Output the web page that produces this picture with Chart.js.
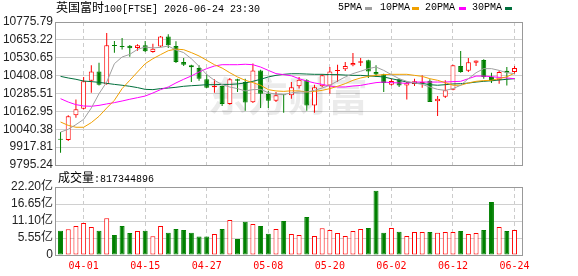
<!DOCTYPE html>
<html>
<head>
<meta charset="utf-8">
<script src="https://cdn.jsdelivr.net/npm/chart.js@4.4.1/dist/chart.umd.min.js"></script>
<style>
  html, body { margin: 0; padding: 0; background: #fff; }
  #wrap { position: relative; width: 578px; height: 276px; overflow: hidden; }
  canvas { position: absolute; left: 0; }
  #priceChart { top: 0; }
  #volChart { top: 176px; }
  .txt { position: absolute; white-space: nowrap; font-family: "Liberation Mono", monospace; font-size: 10px; line-height: 14px; color: #000; z-index: 2; }
  .cjk { font-family: "Noto Sans CJK SC", sans-serif; font-size: 12px; }
  .mk { position: absolute; width: 7px; height: 3px; top: 7px; z-index: 2; }
</style>
</head>
<body>
<div id="wrap">
  <canvas id="priceChart" width="578" height="176"></canvas>
  <canvas id="volChart" width="578" height="100"></canvas>

  <div class="txt" style="left:56px; top:0px;"><span class="cjk">英国富时</span>100[FTSE] 2026-06-24 23:30</div>

  <div class="txt" style="left:338px; top:1px;">5PMA</div>
  <div class="mk" style="left:365px; background:#a0a0a0;"></div>
  <div class="txt" style="left:380px; top:1px;">10PMA</div>
  <div class="mk" style="left:412px; background:#f0a000;"></div>
  <div class="txt" style="left:425px; top:1px;">20PMA</div>
  <div class="mk" style="left:459px; background:#ff00ff;"></div>
  <div class="txt" style="left:472px; top:1px;">30PMA</div>
  <div class="mk" style="left:505px; background:#006f3c;"></div>

  <div class="txt" style="left:58px; top:170px;"><span class="cjk">成交量</span>:817344896</div>
</div>
<script>
// trading days shown (MM-DD)
const dates = ['03-27','03-30','03-31','04-01','04-02','04-07','04-08','04-09','04-10','04-13',
  '04-14','04-15','04-16','04-17','04-20','04-21','04-22','04-23','04-24','04-27',
  '04-28','04-29','04-30','05-01','05-05','05-06','05-07','05-08','05-11','05-12',
  '05-13','05-14','05-15','05-18','05-19','05-20','05-21','05-22','05-26','05-27',
  '05-28','05-29','06-01','06-02','06-03','06-04','06-05','06-08','06-09','06-10',
  '06-11','06-12','06-15','06-16','06-17','06-18','06-19','06-22','06-23','06-24'];

const opens = [9976,9967,10136,10181,10373,10437,10351,10616,10609,10613,
  10597,10616,10570,10607,10677,10611,10501,10479,10460,10383,
  10328,10337,10213,10383,10364,10225,10444,10282,10236,10277,
  10273,10335,10376,10204,10335,10341,10440,10451,10479,10497,
  10513,10433,10417,10346,10383,10341,10351,10355,10373,10232,
  10264,10312,10474,10442,10497,10515,10399,10376,10442,10433];
const highs = [10021,10136,10245,10399,10479,10497,10700,10645,10666,10618,
  10623,10645,10627,10680,10691,10643,10529,10483,10479,10415,
  10383,10341,10392,10387,10387,10492,10449,10305,10296,10282,
  10364,10399,10383,10346,10417,10467,10483,10501,10563,10529,
  10517,10480,10421,10387,10387,10364,10387,10410,10383,10268,
  10376,10483,10577,10529,10511,10520,10428,10444,10467,10474];
const lows = [9880,9960,10120,10177,10291,10341,10346,10565,10588,10538,
  10579,10570,10565,10602,10597,10495,10474,10364,10373,10323,
  10291,10200,10209,10296,10168,10220,10186,10186,10227,10154,
  10250,10319,10168,10154,10328,10284,10364,10440,10472,10474,
  10392,10399,10296,10341,10330,10245,10337,10325,10227,10131,
  10255,10307,10428,10433,10474,10387,10357,10353,10341,10419];
const closes = [9969,10129,10177,10369,10437,10346,10616,10611,10604,10595,
  10616,10575,10593,10677,10616,10501,10483,10465,10387,10325,
  10337,10213,10383,10373,10223,10444,10284,10236,10273,10273,
  10328,10380,10204,10328,10410,10437,10447,10474,10495,10506,
  10437,10415,10357,10371,10341,10360,10369,10364,10227,10250,
  10307,10479,10433,10499,10511,10399,10369,10433,10428,10460];

// volume in 亿
const volumes = [7.93,8.40,9.47,10.45,9.14,7.93,11.98,6.53,9.47,7.18,
  7.84,7.93,6.09,9.47,7.29,8.49,8.16,7.29,6.00,6.00,
  6.86,8.49,11.43,5.22,10.88,10.12,9.47,6.97,8.49,11.10,
  6.86,6.53,12.40,6.20,8.70,8.16,7.18,6.20,7.84,8.49,
  8.82,21.00,7.29,8.82,7.62,6.20,7.51,7.51,7.51,7.29,
  7.51,7.51,7.84,6.86,7.18,8.16,17.30,9.14,7.84,8.17];

const ma5 = [10021,10040,10072,10108,10186,10284,10364,10490,10536,10554,
  10588,10604,10598,10602,10611,10584,10566,10524,10472,10415,
  10376,10346,10330,10319,10303,10312,10314,10291,10280,10278,
  10290,10296,10296,10307,10323,10342,10371,10399,10422,10438,
  10456,10467,10444,10415,10387,10369,10358,10348,10330,10314,
  10307,10319,10342,10387,10428,10456,10456,10444,10428,10422];
const ma10 = [10090,10067,10054,10054,10086,10129,10186,10239,10319,10376,
  10433,10490,10524,10552,10579,10590,10586,10566,10543,10513,
  10483,10460,10428,10399,10376,10360,10342,10312,10303,10300,
  10304,10303,10296,10300,10307,10319,10335,10353,10376,10392,
  10403,10410,10415,10417,10417,10417,10410,10403,10387,10376,
  10360,10342,10342,10358,10369,10374,10376,10388,10400,10425];
const ma20 = [10250,10227,10209,10200,10198,10204,10214,10223,10234,10246,
  10257,10268,10289,10312,10330,10358,10383,10406,10433,10456,
  10474,10483,10483,10483,10486,10483,10467,10444,10422,10415,
  10407,10387,10371,10358,10348,10337,10330,10330,10337,10341,
  10351,10360,10364,10360,10358,10355,10364,10364,10364,10364,
  10364,10367,10369,10387,10405,10405,10401,10396,10392,10387];
const ma30 = [10403,10392,10383,10371,10367,10362,10355,10348,10342,10335,
  10326,10314,10312,10319,10323,10328,10335,10339,10342,10346,
  10346,10348,10348,10351,10358,10369,10383,10399,10410,10417,
  10421,10421,10419,10417,10417,10415,10415,10412,10410,10410,
  10406,10403,10399,10387,10376,10364,10357,10355,10346,10342,
  10346,10351,10353,10357,10364,10369,10373,10378,10383,10387];

const priceTicks = [9795.24, 9917.81, 10040.38, 10162.95, 10285.51, 10408.08, 10530.65, 10653.22, 10775.79];
const volTicks = [0, 5.55, 11.10, 16.65, 22.20];
const volTickLabels = ['0', '5.55亿', '11.10亿', '16.65亿', '22.20亿'];
const dateTicks = [3, 11, 19, 27, 35, 43, 51, 59];

const RED = '#ff0000';
const GREEN = '#008000';
const X_MIN = -0.72, X_MAX = 59.97;

const up = closes.map((c, i) => c >= opens[i]);
const candleColor = up.map(u => u ? RED : GREEN);
const hollowFill = up.map(u => u ? '#ffffff' : GREEN);
const pts = arr => arr.map((v, i) => ({ x: i, y: v }));

function maLine(label, data, color) {
  return { type: 'line', label, data: pts(data), borderColor: color, borderWidth: 1,
    pointRadius: 0, tension: 0, order: 0 };
}

// box round the plot area
const frame = {
  id: 'frame',
  afterDraw(chart) {
    const { ctx, chartArea: a } = chart;
    ctx.save();
    ctx.strokeStyle = '#999';
    ctx.lineWidth = 1;
    ctx.strokeRect(a.left + 0.5, a.top + 0.5, a.right - a.left, a.bottom - a.top);
    ctx.restore();
  }
};

const watermark = {
  id: 'watermark',
  beforeDatasetsDraw(chart) {
    const ctx = chart.ctx;
    ctx.save();
    ctx.font = 'bold 40px "Noto Sans CJK SC"';
    ctx.fillStyle = 'rgba(0,0,0,0.08)';
    ctx.textBaseline = 'middle';
    ctx.fillText('东方财富', 208, 96);
    ctx.restore();
  }
};

function xScale(showLabels) {
  return {
    type: 'linear', min: X_MIN, max: X_MAX, offset: false,
    afterBuildTicks: s => { s.ticks = dateTicks.map(v => ({ value: v })); },
    afterFit: s => { s.height = showLabels ? 21 : 0; },
    ticks: {
      display: showLabels, autoSkip: false, maxRotation: 0, padding: 5, color: RED,
      font: { family: 'DejaVu Sans Mono', size: 10 },
      callback: v => dates[v]
    },
    grid: { offset: false, drawTicks: false, color: '#cccccc', borderDash: [4, 3] },
    border: { display: false, dash: [4, 3] }
  };
}

new Chart(document.getElementById('priceChart'), {
  type: 'bar',
  data: {
    datasets: [
      maLine('5PMA', ma5, '#a0a0a0'),
      maLine('10PMA', ma10, '#f0a000'),
      maLine('20PMA', ma20, '#ff00ff'),
      maLine('30PMA', ma30, '#006f3c'),
      {
        label: 'body', data: opens.map((o, i) => ({ x: i, y: [o, closes[i]] })),
        backgroundColor: hollowFill, borderColor: candleColor, borderWidth: 1,
        borderSkipped: false, barThickness: 5, minBarLength: 1, grouped: false,
        inflateAmount: 0, order: 1
      },
      {
        label: 'wick', data: lows.map((l, i) => ({ x: i, y: [l, highs[i]] })),
        backgroundColor: candleColor, borderWidth: 0, barThickness: 1, grouped: false,
        inflateAmount: 0, order: 2
      }
    ]
  },
  options: {
    responsive: false, animation: false,
    layout: { padding: { left: 0, right: 56, top: 22, bottom: 11 } },
    plugins: { legend: { display: false }, tooltip: { enabled: false } },
    scales: {
      x: xScale(false),
      y: {
        min: priceTicks[0], max: priceTicks[priceTicks.length - 1],
        afterBuildTicks: s => { s.ticks = priceTicks.map(v => ({ value: v })); },
        afterFit: s => { s.width = 55; },
        ticks: { autoSkip: false, padding: 2, color: '#222', font: { family: 'Liberation Sans', size: 12 },
          callback: v => v.toFixed(2) },
        grid: { drawTicks: false, color: '#d0d0d0' },
        border: { display: false }
      }
    }
  },
  plugins: [watermark, frame]
});

new Chart(document.getElementById('volChart'), {
  type: 'bar',
  data: {
    datasets: [{
      label: '成交量', data: pts(volumes),
      backgroundColor: hollowFill, borderColor: candleColor, borderWidth: 1,
      borderSkipped: false, barThickness: 5, grouped: false, inflateAmount: 0
    }]
  },
  options: {
    responsive: false, animation: false,
    layout: { padding: { left: 0, right: 56, top: 11, bottom: 0 } },
    plugins: { legend: { display: false }, tooltip: { enabled: false } },
    scales: {
      x: xScale(true),
      y: {
        min: 0, max: volTicks[volTicks.length - 1],
        afterBuildTicks: s => { s.ticks = volTicks.map(v => ({ value: v })); },
        afterFit: s => { s.width = 55; },
        ticks: { autoSkip: false, padding: 2, color: '#222', font: { family: "'Liberation Sans', 'Noto Sans CJK SC'", size: 12 },
          callback: (v, i) => volTickLabels[i] },
        grid: { drawTicks: false, color: '#d0d0d0' },
        border: { display: false }
      }
    }
  },
  plugins: [frame]
});
</script>
</body>
</html>
